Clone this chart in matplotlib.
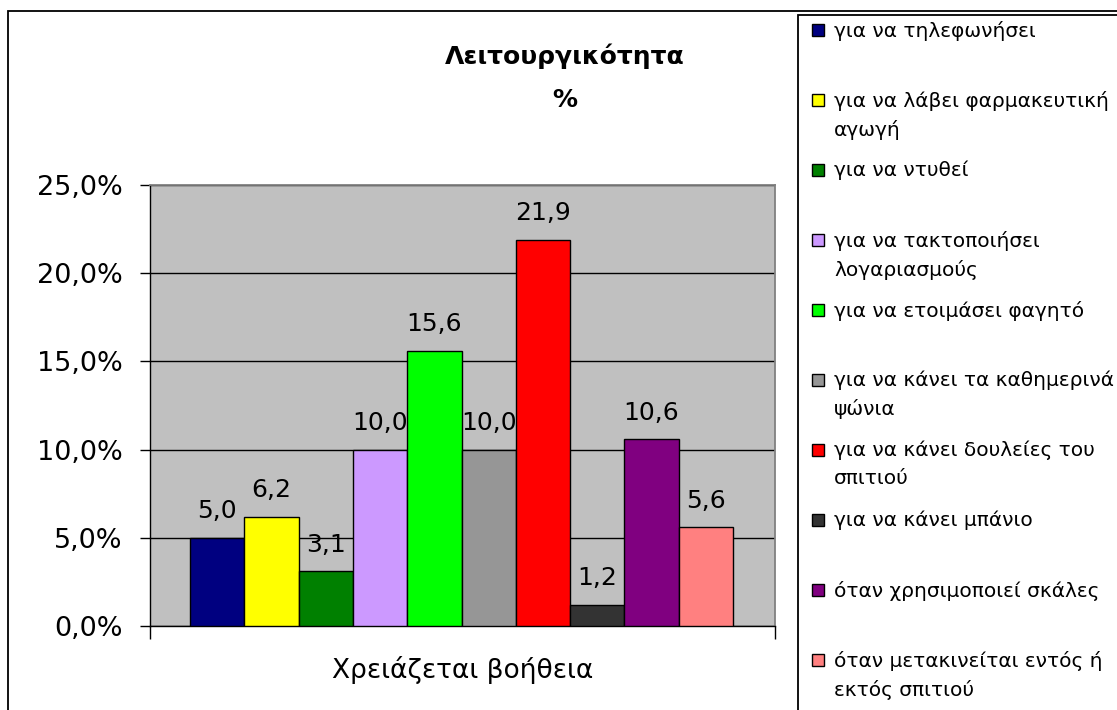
import matplotlib
matplotlib.use('Agg')
import matplotlib.pyplot as plt
from matplotlib.patches import Rectangle
from matplotlib.ticker import FuncFormatter

plt.rcParams['font.family'] = ['DejaVu Sans']

# Ποσοστά ανά δραστηριότητα
categories = [
    'για να τηλεφωνήσει',
    'για να λάβει φαρμακευτική\nαγωγή',
    'για να ντυθεί',
    'για να τακτοποιήσει\nλογαριασμούς',
    'για να ετοιμάσει φαγητό',
    'για να κάνει τα καθημερινά\nψώνια',
    'για να κάνει δουλείες του\nσπιτιού',
    'για να κάνει μπάνιο',
    'όταν χρησιμοποιεί σκάλες',
    'όταν μετακινείται εντός ή\nεκτός σπιτιού',
]
values = [5.0, 6.2, 3.1, 10.0, 15.6, 10.0, 21.9, 1.2, 10.6, 5.6]
colors = ['#000080', '#FFFF00', '#008000', '#CC99FF', '#00FF00',
          '#969696', '#FF0000', '#333333', '#800080', '#FF8080']
group_label = 'Χρειάζεται βοήθεια'
title = 'Λειτουργικότητα\n%'

W, H = 1117, 710
fig = plt.figure(figsize=(W / 100, H / 100), dpi=100)

# outer chart frame
fig.patches.append(Rectangle((8 / W, -0.1), 1.2, 1 - 11 / H + 0.1,
                             transform=fig.transFigure, fill=False,
                             edgecolor='black', linewidth=1.3))

ax = fig.add_axes([150 / W, 1 - 626 / H, 625 / W, 441 / H])
ax.set_facecolor('#C0C0C0')

x = list(range(len(values)))
bars = ax.bar(x, values, width=1.0, color=colors, edgecolor='black',
              linewidth=1.0, zorder=3)
for b, v in zip(bars, values):
    ax.annotate(f'{v:.1f}'.replace('.', ','),
                (b.get_x() + b.get_width() / 2, v),
                xytext=(0, 14), textcoords='offset points',
                ha='center', va='baseline', fontsize=18, zorder=4)

ax.set_ylim(0, 25)
ax.set_xlim(-1.237, 10.273)
ax.set_yticks([0, 5, 10, 15, 20, 25])
ax.yaxis.set_major_formatter(
    FuncFormatter(lambda v, p: f'{v:.1f}'.replace('.', ',') + '%'))
ax.tick_params(axis='y', labelsize=19.5, length=7.5, width=1, pad=12)
ax.grid(axis='y', color='black', linewidth=1.0, zorder=1)

ax.set_xticks([-1.237, 10.273])
ax.set_xticklabels(['', ''])
ax.tick_params(axis='x', length=9, width=1)
ax.text(0.5, -0.1, group_label, transform=ax.transAxes,
        ha='center', va='center', fontsize=19)

for s in ['top', 'right']:
    ax.spines[s].set_color('#808080')
    ax.spines[s].set_linewidth(1.3)
for s in ['left', 'bottom']:
    ax.spines[s].set_color('black')
    ax.spines[s].set_linewidth(1.0)

fig.text(565 / W, 1 - 78 / H, title, ha='center', va='center',
         fontsize=18, fontweight='bold', linespacing=2.0)

# legend box on the right
fig.patches.append(Rectangle((798 / W, -0.1), 0.5, 1 - 15 / H + 0.1,
                             transform=fig.transFigure, fill=False,
                             edgecolor='black', linewidth=1.3))
for i, (lab, c) in enumerate(zip(categories, colors)):
    yc = 30 + 70 * i
    fig.patches.append(Rectangle((812 / W, 1 - (yc + 6) / H), 12 / W, 12 / H,
                                 transform=fig.transFigure, facecolor=c,
                                 edgecolor='black', linewidth=1.0))
    fig.text(834 / W, 1 - (yc - 9) / H, lab, ha='left', va='top',
             fontsize=14.5, linespacing=1.54)

fig.savefig('out.png', dpi=100)
